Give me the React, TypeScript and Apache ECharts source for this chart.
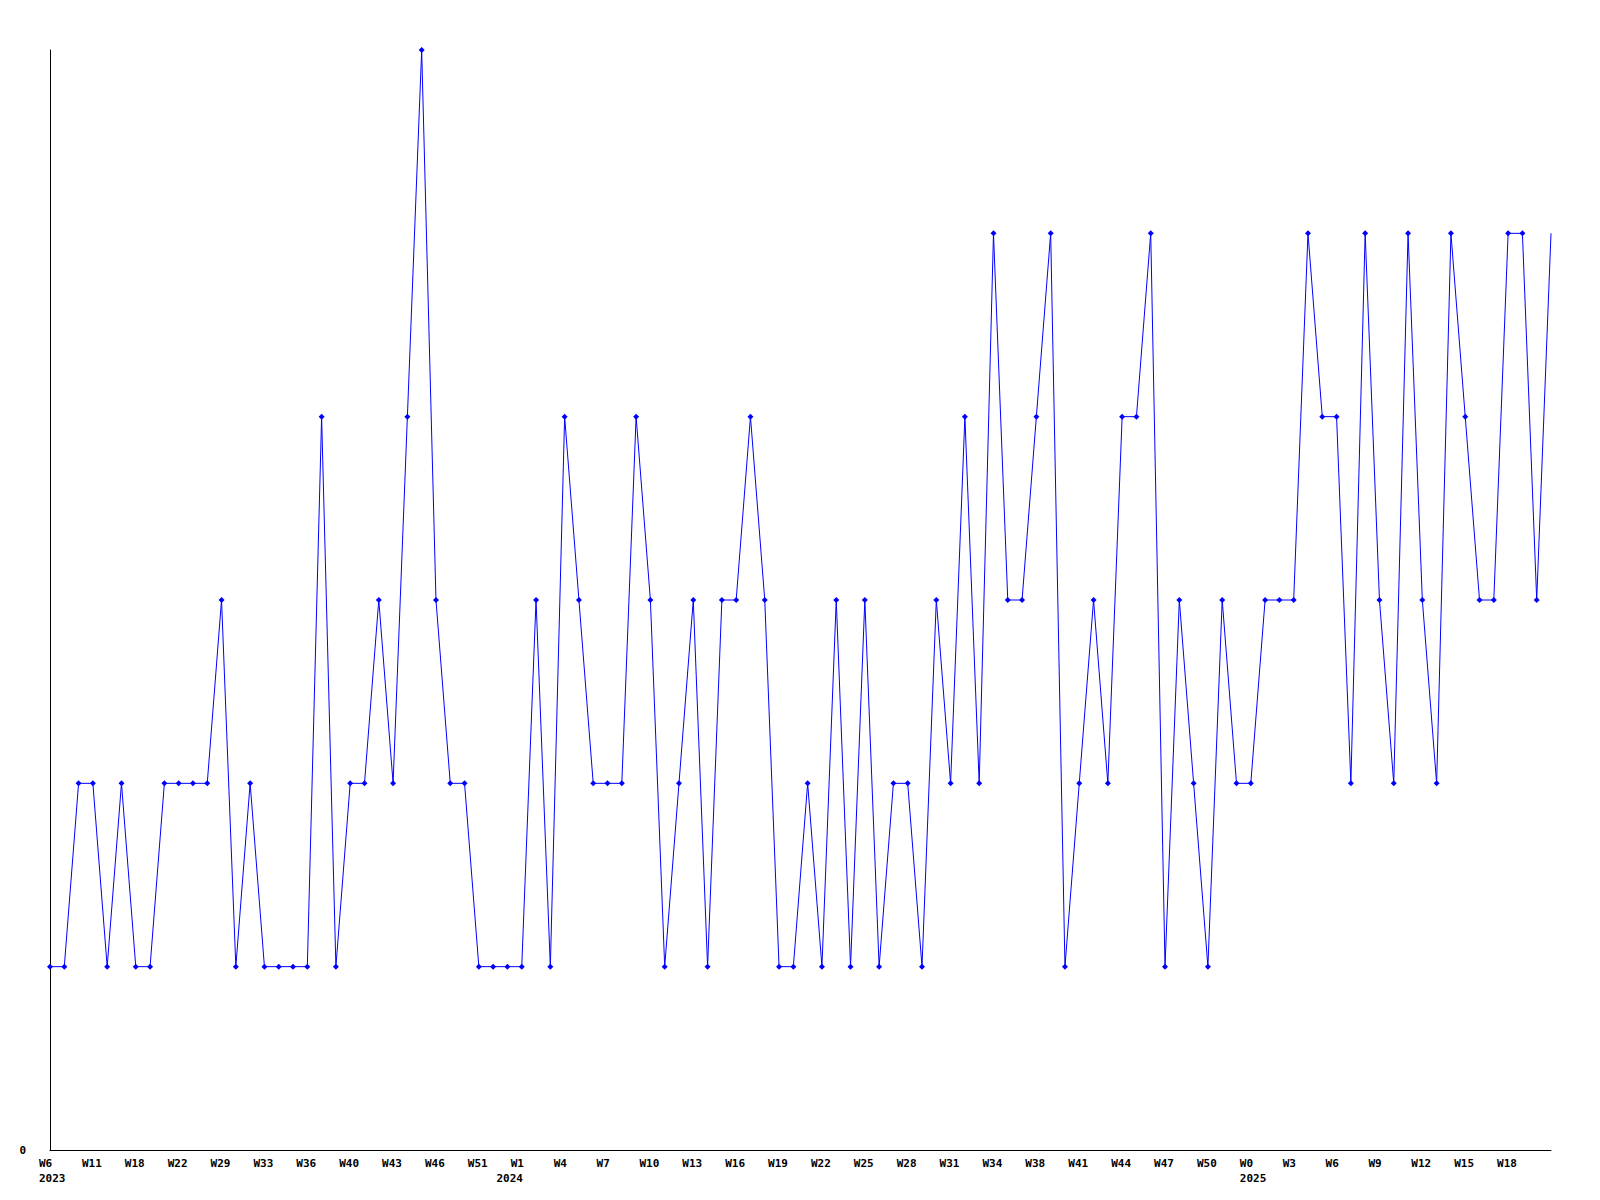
import React, { useEffect, useRef } from "react";
import * as echarts from "echarts";

// Week categories (one per data point); only every third label is shown on the axis.
const weeks: string[] = [
  "W6", "W8", "W9", "W11", "W13", "W16", "W18", "W19", "W21", "W22",
  "W24", "W27", "W29", "W31", "W32", "W33", "W34", "W35", "W36", "W37",
  "W39", "W40", "W41", "W42", "W43", "W44", "W45", "W46", "W48", "W50",
  "W51", "W52",
  "W0", "W1", "W2", "W3", "W4", "W5", "W6", "W7", "W8", "W9", "W10",
  "W11", "W12", "W13", "W14", "W15", "W16", "W17", "W18", "W19", "W20",
  "W21", "W22", "W23", "W24", "W25", "W26", "W27", "W28", "W29", "W30",
  "W31", "W32", "W33", "W34", "W36", "W37", "W38", "W39", "W40", "W41",
  "W42", "W43", "W44", "W45", "W46", "W47", "W48", "W49", "W50", "W51", "W53",
  "W0", "W1", "W2", "W3", "W4", "W5", "W6", "W7", "W8", "W9",
  "W10", "W11", "W12", "W13", "W14", "W15", "W16", "W17", "W18", "W19",
  "W20", "W21",
];

// Year shown under the first week of each year (category index -> year)
const yearStartIndex: number[] = [0, 32, 84];
const yearLabels: string[] = ["2023", "2024", "2025"];

const values: number[] = [
  1, 1, 2, 2, 1, 2, 1, 1, 2, 2,
  2, 2, 3, 1, 2, 1, 1, 1, 1, 4,
  1, 2, 2, 3, 2, 4, 6, 3, 2, 2,
  1, 1, 1, 1, 3, 1, 4, 3, 2, 2,
  2, 4, 3, 1, 2, 3, 1, 3, 3, 4,
  3, 1, 1, 2, 1, 3, 1, 3, 1, 2,
  2, 1, 3, 2, 4, 2, 5, 3, 3, 4,
  5, 1, 2, 3, 2, 4, 4, 5, 1, 3,
  2, 1, 3, 2, 2, 3, 3, 3, 5, 4,
  4, 2, 5, 3, 2, 5, 3, 2, 5, 4,
  3, 3, 5, 5, 3, 5,
];

const yMin = 0;
const yMax = 6;

export default function App() {
  const ref = useRef<HTMLDivElement>(null);

  useEffect(() => {
    if (!ref.current) return;
    const chart = echarts.init(ref.current, undefined, { renderer: "svg" });
    const font = "DejaVu Sans Mono";
    const last = values.length - 1;
    const seriesData = values.map((v, i) =>
      i === last ? { value: v, symbol: "none" } : v
    );
    const showWeek = (i: number) => i % 3 === 0 && i < last;
    chart.setOption({
      animation: false,
      backgroundColor: "#ffffff",
      grid: { left: 50, right: 49, top: 50, bottom: 50, containLabel: false },
      xAxis: {
        type: "category",
        data: weeks,
        boundaryGap: false,
        axisLine: { show: true, lineStyle: { color: "#000000", width: 1 } },
        axisTick: { show: false },
        splitLine: { show: false },
        axisLabel: {
          interval: (i: number) => showWeek(i) || yearStartIndex.indexOf(i) >= 0,
          margin: 6,
          color: "#000000",
          fontFamily: font,
          fontWeight: "bold",
          fontSize: 11,
          lineHeight: 15,
          align: "center",
          width: 22,
          overflow: "none",
          formatter: (value: string, index: number) => {
            const k = yearStartIndex.indexOf(index);
            const top = showWeek(index) ? "{w|" + value + "}" : "{w| }";
            return k >= 0 ? top + "\n{w|" + yearLabels[k] + "}" : top;
          },
          rich: {
            w: {
              align: "left",
              fontFamily: font,
              fontWeight: "bold",
              fontSize: 11,
              lineHeight: 15,
              color: "#000000",
            },
          },
        },
      },
      yAxis: {
        type: "value",
        min: yMin,
        max: yMax,
        interval: 6,
        axisLine: { show: true, lineStyle: { color: "#000000", width: 1 } },
        axisTick: { show: false },
        splitLine: { show: false },
        axisLabel: {
          margin: 24,
          color: "#000000",
          fontFamily: font,
          fontWeight: "bold",
          fontSize: 11,
          formatter: (v: number) => (v === 0 ? "0" : ""),
        },
      },
      series: [
        {
          type: "line",
          data: seriesData,
          symbol: "diamond",
          symbolSize: 6,
          showAllSymbol: true,
          lineStyle: { color: "#0000ff", width: 1 },
          itemStyle: { color: "#0000ff" },
        },
      ],
    });
    return () => chart.dispose();
  }, []);

  return (
    <div
      ref={ref}
      style={{ position: "fixed", left: 0, top: 0, width: 1600, height: 1200, background: "#fff" }}
    />
  );
}
